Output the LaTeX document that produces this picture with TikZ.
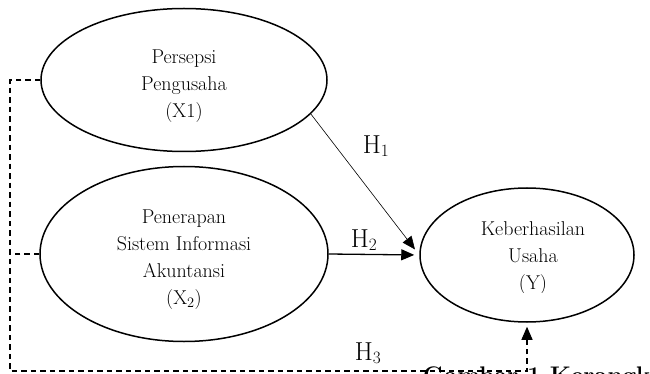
\documentclass[tikz,border=0pt]{standalone}
\usepackage{fontspec}
\usepackage{tikz}
\usetikzlibrary{positioning,arrows.meta,shapes.geometric}

\begin{document}
\begin{tikzpicture}[x=1pt,y=-1pt,
    every node/.style={font=\fontsize{20}{27}\selectfont},
    varbox/.style={draw, ellipse, line width=1.5pt, inner sep=0pt},
    hlabel/.style={font=\fontsize{26}{28}\selectfont},
    dashedline/.style={dash pattern=on 5.5pt off 4pt, line width=1.1pt}]
  \useasboundingbox (0,0) rectangle (650,374);
  \clip (0,0) rectangle (650,374);

  % konstruk
  \node[varbox, minimum width=286pt, minimum height=143pt] (x1) at (184,80) {};
  \node[varbox, minimum width=288pt, minimum height=175pt] (x2) at (184,254) {};
  \node[varbox, minimum width=214pt, minimum height=134pt] (y) at (527,255) {};

  \node[align=center] (tx1) at (184,86) {Persepsi\\Pengusaha\\(X1)};
  \node[align=center] (tx2) at (184,260) {Penerapan\\Sistem Informasi\\Akuntansi\\(X$_2$)};
  \begin{scope}
    \clip (420,150) rectangle (650,292);
    \node[align=center] (ty) at (533,258) {Keberhasilan\\Usaha\\(Y)};
  \end{scope}

  % hipotesis
  \draw[line width=0.6pt, -{Triangle[length=13pt,width=11pt]}, shorten >=7pt]
    (x1.-15) -- (y.west);
  \draw[line width=1.3pt, -{Triangle[length=13pt,width=11pt]}, shorten >=5pt]
    (x2.east) -- (y.west);

  \coordinate (bl) at (10,371);
  \draw[dashedline, -{Triangle[length=13pt,width=11pt]}, shorten >=4pt]
    (x1.west) -| (bl) -| (y.south);
  \draw[dashedline] (x2.west) -- (x2.west -| bl);

  \node[hlabel] (h1) at (376,146) {H$_1$};
  \node[hlabel] (h2) at (364,240) {H$_2$};
  \node[hlabel] (h3) at (368,353) {H$_3$};

  % judul gambar (terpotong)
  \node[anchor=base west, inner sep=0pt, font=\fontsize{24}{28}\selectfont\bfseries]
    (cap) at (423,383) {Gambar 1 Kerangka};
\end{tikzpicture}
\end{document}
